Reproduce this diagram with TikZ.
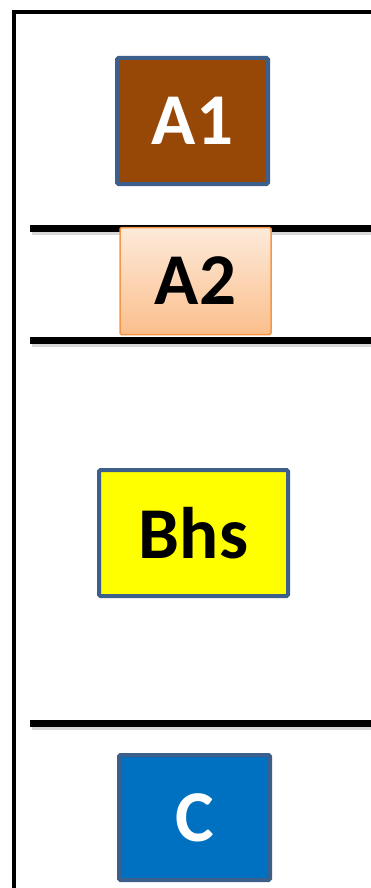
\documentclass[tikz,border=0pt]{standalone}
\usepackage{fontspec}
\setmainfont{Carlito}
\usetikzlibrary{positioning}
\definecolor{bordblue}{HTML}{3D5F8C}
\definecolor{brownA}{HTML}{974706}
\definecolor{peachtop}{HTML}{FDEADA}
\definecolor{peachbot}{HTML}{FBBF8C}
\definecolor{orangeb}{HTML}{F79646}
\definecolor{blueC}{HTML}{0070C0}
\definecolor{yellowB}{HTML}{FFFF00}
\tikzset{
  x=1pt, y=-1pt,
  boxbase/.style={rectangle, rounded corners=1.5pt, inner sep=0pt,
    font=\fontsize{73}{73}\selectfont\bfseries},
  bluebord/.style={boxbase, draw=bordblue, line width=4pt},
  divider/.style={line width=7pt, black},
  dividershadow/.style={line width=7pt, black!25, opacity=0.6},
  frame/.style={line width=4pt, black}
}
\begin{document}
\begin{tikzpicture}
\useasboundingbox (0,0) rectangle (370,888);
\fill[white] (0,0) rectangle (370,888);
% frame
\coordinate (fbl) at (14,890);
\coordinate (ftl) at (14,12);
\coordinate (ftr) at (372,12);
\draw[frame] (fbl) -- (ftl) -- (ftr);
% dividers
\foreach \n/\yy in {d1/228, d2/340, d3/723}{
  \coordinate (\n l) at (30,\yy);
  \coordinate (\n r) at (372,\yy);
  \coordinate (\n ls) at (32,\yy+3);
  \coordinate (\n rs) at (372,\yy+3);
  \draw[dividershadow] (\n ls) -- (\n rs);
  \draw[divider] (\n l) -- (\n r);
}
% boxes
\node[bluebord, fill=brownA, text=white, minimum width=151pt, minimum height=126pt] (A1) at (192.5,121) {A1};
\node[boxbase, draw=orangeb, line width=1.5pt, top color=peachtop, bottom color=peachbot, text=black, minimum width=151pt, minimum height=107pt] (A2) at (195.5,281) {A2};
\node[bluebord, fill=yellowB, text=black, minimum width=189pt, minimum height=126pt] (B) at (193.5,533) {Bhs};
\node[bluebord, fill=blueC, text=white, minimum width=151pt, minimum height=125pt] (C) at (194.5,817.5) {C};
\end{tikzpicture}
\end{document}
